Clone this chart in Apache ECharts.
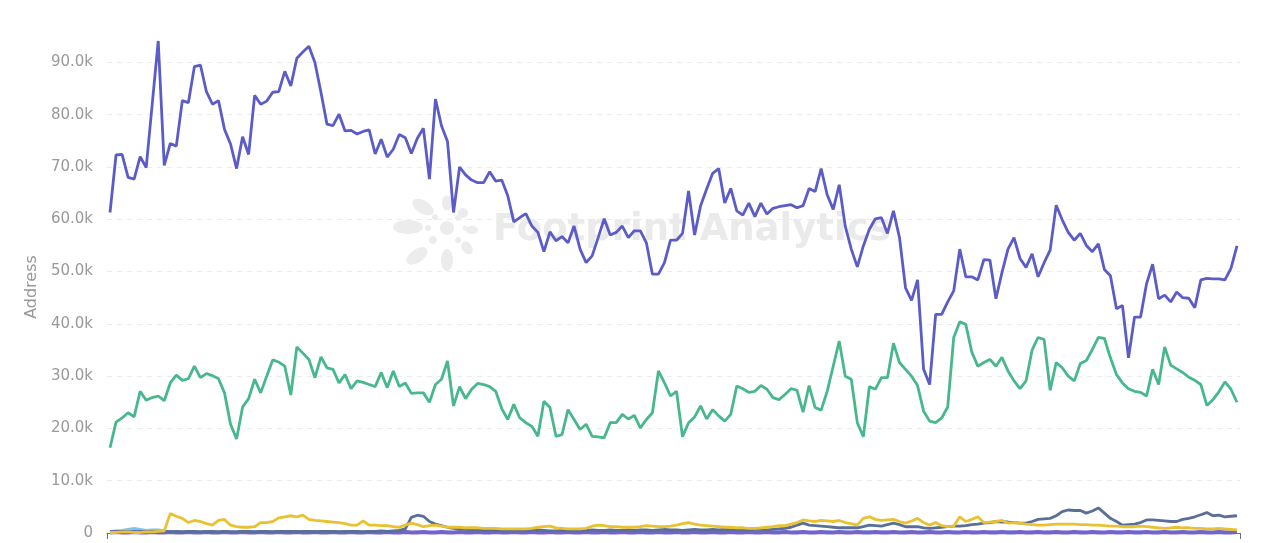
<!DOCTYPE html>
<html>
<head>
<meta charset="utf-8">
<script src="https://cdn.jsdelivr.net/npm/echarts@6/dist/echarts.min.js"></script>
<style>
html,body{margin:0;padding:0;background:#fff;}
#chart{width:1273px;height:543px;}
</style>
</head>
<body>
<div id="chart"></div>
<script>
// Values in thousands of addresses
const mainSeries = [
61.3,72.3,72.4,68.0,67.7,72.0,69.9,82.0,94.1,70.3,
74.5,74.0,82.7,82.3,89.2,89.5,84.4,82.0,82.7,77.2,
74.4,69.7,75.8,72.4,83.7,82.0,82.6,84.3,84.4,88.3,
85.5,90.8,92.0,93.1,90.0,84.3,78.2,77.9,80.1,76.9,
77.0,76.3,76.8,77.1,72.5,75.3,71.9,73.4,76.2,75.6,
72.6,75.5,77.4,67.7,83.0,77.9,74.9,61.3,70.0,68.5,
67.5,67.0,67.0,69.1,67.3,67.5,64.5,59.5,60.3,61.1,
58.7,57.5,53.8,57.6,55.9,56.7,55.5,58.7,54.3,51.7,
53.0,56.5,60.1,57.0,57.5,58.7,56.5,57.8,57.8,55.5,
49.5,49.5,51.7,56.0,56.0,57.3,65.4,57.0,62.6,65.8,
68.8,69.7,63.1,65.9,61.6,60.8,63.1,60.5,63.1,61.0,
62.1,62.4,62.6,62.8,62.2,62.6,65.9,65.3,69.7,64.7,
61.9,66.6,58.7,54.3,50.9,54.9,58.1,60.1,60.3,57.3,
61.6,56.5,46.9,44.5,48.4,31.3,28.4,41.8,41.8,44.2,
46.3,54.3,49.0,49.0,48.4,52.3,52.2,44.8,49.8,54.3,
56.5,52.5,50.8,53.4,49.0,51.7,54.1,62.7,59.9,57.5,
56.0,57.3,55.0,53.8,55.3,50.4,49.2,42.9,43.5,33.5,
41.3,41.3,47.7,51.4,44.8,45.5,44.2,46.1,45.0,44.9,
43.1,48.4,48.7,48.6,48.6,48.4,50.6,54.9
];
const greenSeries = [
16.3,21.2,22.0,23.0,22.2,27.1,25.4,25.9,26.2,25.3,
28.7,30.2,29.2,29.5,31.9,29.7,30.5,30.1,29.5,26.8,
20.8,18.0,24.1,25.7,29.4,26.8,30.0,33.1,32.7,31.9,
26.4,35.6,34.4,33.2,29.7,33.7,31.6,31.3,28.7,30.3,
27.6,29.1,28.8,28.4,28.0,30.7,27.8,31.0,28.0,28.7,
26.7,26.8,26.8,25.0,28.4,29.4,32.9,24.3,28.0,25.7,
27.5,28.6,28.4,28.0,27.1,23.8,21.7,24.6,22.0,21.1,
20.4,18.5,25.2,24.0,18.5,18.8,23.6,21.7,19.8,20.8,
18.5,18.4,18.2,21.1,21.1,22.7,21.8,22.5,20.1,21.7,
23.0,31.0,28.7,26.2,27.1,18.4,21.1,22.2,24.3,21.8,
23.6,22.4,21.4,22.7,28.1,27.6,26.9,27.1,28.2,27.5,
25.9,25.5,26.5,27.6,27.3,23.1,28.2,24.0,23.5,27.1,
31.9,36.7,30.0,29.4,21.1,18.4,28.0,27.5,29.7,29.7,
36.3,32.6,31.3,30.0,28.2,23.3,21.4,21.1,22.0,24.1,
37.4,40.4,39.9,34.6,31.9,32.6,33.2,31.9,33.6,31.0,
29.1,27.6,29.1,35.0,37.4,37.0,27.3,32.6,31.6,30.0,
29.1,32.4,33.0,35.1,37.4,37.2,33.5,30.3,28.7,27.6,
27.1,26.9,26.2,31.3,28.4,35.6,32.1,31.4,30.7,29.8,
29.2,28.4,24.4,25.5,27.0,28.9,27.5,25.0
];
const yellowSeries = [
0.1,0.1,0.2,0.2,0.1,0.1,0.2,0.2,0.3,0.4,
3.7,3.2,2.8,2.0,2.4,2.2,1.8,1.5,2.4,2.6,
1.5,1.2,1.1,1.1,1.2,2.0,2.0,2.2,2.9,3.1,
3.3,3.1,3.4,2.6,2.4,2.3,2.2,2.1,2.0,1.8,
1.5,1.5,2.3,1.5,1.5,1.4,1.4,1.2,1.1,1.5,
1.9,1.6,1.2,1.4,1.5,1.3,1.1,1.1,1.1,1.0,
1.0,1.0,0.9,0.9,0.9,0.8,0.8,0.8,0.8,0.8,
0.9,1.1,1.2,1.3,1.0,0.9,0.8,0.8,0.8,0.9,
1.3,1.5,1.4,1.2,1.2,1.1,1.1,1.1,1.2,1.4,
1.3,1.2,1.2,1.3,1.5,1.8,2.0,1.7,1.5,1.4,
1.3,1.2,1.1,1.1,1.0,1.0,0.9,0.9,1.0,1.1,
1.2,1.4,1.4,1.7,2.0,2.5,2.3,2.2,2.4,2.3,
2.2,2.4,2.0,1.8,1.5,2.8,3.1,2.6,2.4,2.5,
2.6,2.2,1.9,2.3,2.8,2.0,1.5,2.0,1.4,1.2,
1.3,3.1,2.2,2.6,3.1,2.0,2.1,2.2,2.4,1.9,
2.0,1.9,1.7,1.6,1.5,1.5,1.6,1.7,1.7,1.7,
1.7,1.6,1.6,1.5,1.5,1.4,1.3,1.3,1.2,1.2,
1.2,1.3,1.2,1.1,1.0,0.9,1.0,1.1,1.0,1.0,
0.9,0.9,0.8,0.8,0.9,0.8,0.7,0.6
];
const slateSeries = [
0.3,0.2,0.3,0.2,0.2,0.3,0.2,0.2,0.3,0.3,
0.2,0.3,0.2,0.3,0.3,0.2,0.2,0.3,0.2,0.3,
0.2,0.2,0.3,0.3,0.2,0.3,0.3,0.2,0.3,0.3,
0.3,0.2,0.3,0.3,0.2,0.3,0.3,0.3,0.2,0.3,
0.3,0.3,0.2,0.3,0.3,0.4,0.3,0.4,0.5,0.8,
3.0,3.4,3.2,2.2,1.7,1.4,1.1,0.9,0.8,0.7,
0.6,0.6,0.5,0.5,0.5,0.4,0.4,0.5,0.4,0.4,
0.5,0.6,0.5,0.4,0.4,0.5,0.4,0.4,0.5,0.5,
0.6,0.5,0.5,0.6,0.5,0.5,0.6,0.5,0.6,0.6,
0.5,0.6,0.7,0.6,0.6,0.5,0.6,0.7,0.6,0.6,
0.7,0.6,0.7,0.6,0.7,0.6,0.6,0.7,0.7,0.6,
0.7,0.8,0.9,1.1,1.5,1.9,1.5,1.4,1.3,1.2,
1.1,1.0,1.0,1.0,1.0,1.2,1.5,1.4,1.3,1.6,
1.9,1.6,1.2,1.2,1.2,1.0,0.9,1.0,1.1,1.2,
1.3,1.3,1.4,1.6,1.7,1.9,2.0,2.2,2.1,2.1,
2.0,1.9,1.9,2.2,2.6,2.7,2.8,3.3,4.1,4.4,
4.3,4.3,3.8,4.2,4.8,3.8,2.8,2.2,1.5,1.6,
1.7,2.0,2.5,2.5,2.4,2.3,2.2,2.2,2.6,2.8,
3.1,3.5,3.9,3.3,3.4,3.1,3.2,3.3
];
const cyanSeries = [
0.3,0.4,0.5,0.7,0.9,0.7,0.5,0.6,0.6,0.4,
0.2,0.2,0.1,0.2,0.2,0.1,0.2,0.2,0.1,0.2,
0.2,0.1,0.1,0.2,0.2,0.2,0.1,0.2,0.2,0.1,
0.2,0.2,0.1,0.1,0.2,0.2,0.1,0.2,0.2,0.1,
0.1,0.2,0.2,0.1,0.2,0.2,0.1,0.1,0.2,0.2,
0.1,0.2,0.2,0.1,0.1,0.2,0.2,0.1,0.2,0.2,
0.1,0.1,0.2,0.2,0.1,0.2,0.2,0.1,0.1,0.2,
0.2,0.1,0.2,0.2,0.1,0.1,0.2,0.2,0.1,0.2,
0.2,0.1,0.1,0.2,0.2,0.1,0.2,0.2,0.1,0.1,
0.2,0.2,0.1,0.2,0.2,0.1,0.1,0.2,0.2,0.1,
0.2,0.2,0.1,0.1,0.2,0.2,0.1,0.2,0.2,0.1,
0.1,0.2,0.2,0.1,0.2,0.2,0.1,0.1,0.2,0.2,
0.1,0.2,0.2,0.1,0.1,0.2,0.2,0.1,0.2,0.2,
0.1,0.1,0.2,0.2,0.1,0.2,0.2,0.1,0.1,0.2,
0.2,0.1,0.2,0.2,0.1,0.1,0.2,0.2,0.1,0.2,
0.2,0.1,0.1,0.2,0.2,0.1,0.2,0.2,0.1,0.1,
0.2,0.2,0.1,0.2,0.2,0.1,0.1,0.2,0.2,0.1,
0.2,0.2,0.1,0.1,0.2,0.2,0.1,0.2,0.2,0.1,
0.1,0.2,0.2,0.1,0.2,0.2,0.1,0.1
];
const violetSeries = [
0.1,0.2,0.1,0.1,0.2,0.1,0.1,0.2,0.1,0.1,
0.2,0.1,0.1,0.2,0.1,0.1,0.2,0.1,0.1,0.2,
0.1,0.1,0.2,0.1,0.1,0.2,0.1,0.1,0.2,0.1,
0.1,0.2,0.1,0.1,0.2,0.1,0.1,0.2,0.1,0.1,
0.2,0.1,0.1,0.2,0.1,0.1,0.2,0.1,0.1,0.2,
0.1,0.1,0.2,0.1,0.1,0.2,0.1,0.1,0.2,0.1,
0.1,0.2,0.1,0.1,0.2,0.1,0.1,0.2,0.1,0.1,
0.2,0.1,0.1,0.2,0.1,0.1,0.2,0.1,0.1,0.2,
0.1,0.1,0.2,0.1,0.1,0.2,0.1,0.1,0.2,0.1,
0.1,0.2,0.1,0.1,0.2,0.1,0.1,0.2,0.1,0.1,
0.2,0.1,0.1,0.2,0.1,0.1,0.2,0.1,0.1,0.2,
0.1,0.1,0.2,0.1,0.1,0.2,0.1,0.1,0.2,0.1,
0.1,0.2,0.1,0.1,0.2,0.1,0.1,0.2,0.1,0.1,
0.2,0.1,0.1,0.2,0.1,0.1,0.2,0.1,0.1,0.2,
0.1,0.1,0.2,0.1,0.1,0.2,0.1,0.1,0.2,0.1,
0.1,0.2,0.1,0.1,0.2,0.1,0.1,0.2,0.1,0.1,
0.2,0.1,0.1,0.2,0.1,0.1,0.2,0.1,0.1,0.2,
0.1,0.1,0.2,0.1,0.1,0.2,0.1,0.1,0.2,0.1,
0.1,0.2,0.1,0.1,0.2,0.1,0.1,0.2
];
const yTickStep = 10; // thousands
const axisName = 'Address';
const watermarkText = 'Footprint Analytics';

// day categories
const startDate = new Date(Date.UTC(2022, 5, 1));
const categories = mainSeries.map((_, i) => {
  const d = new Date(startDate.getTime() + i * 86400000);
  return d.toISOString().slice(0, 10);
});

const chart = echarts.init(document.getElementById('chart'), null, {renderer: 'canvas'});
const lineCommon = {type: 'line', showSymbol: false, symbol: 'none', smooth: false};
const petal = (cx, cy, rx, ry, rot) => ({
  type: 'ellipse', shape: {cx: 0, cy: 0, rx: rx, ry: ry},
  x: cx, y: cy, rotation: rot, style: {fill: '#ececec'}, z: -10, silent: true
});
const labelFont = '"DejaVu Sans", Verdana, sans-serif';
chart.setOption({
  animation: false,
  backgroundColor: '#fff',
  grid: {left: 107, right: 33, top: 41, bottom: 10, containLabel: false},
  graphic: [
    petal(408, 227, 15, 7, 0),
    petal(423, 207, 12, 6.5, -0.55),
    petal(447, 203, 5, 7.5, 0),
    petal(463, 213, 5, 5, 0),
    petal(472, 230, 6, 4, 0),
    petal(467, 248, 5, 7, 0.6),
    petal(447, 260, 6, 11, 0),
    petal(417, 256, 12, 6.5, 0.6),
    petal(447, 228, 7, 7, 0),
    petal(435, 217, 3, 3, 0),
    petal(458, 218, 3, 3, 0),
    petal(433, 240, 4, 4, 0),
    petal(458, 240, 3, 3, 0),
    petal(428, 228, 3, 3, 0),
    petal(465, 228, 2.5, 2.5, 0),
    {
      type: 'text', left: 493, top: 212, z: -10, silent: true,
      style: {text: watermarkText, font: 'bold 37px "DejaVu Sans"', fill: '#eaeaea'}
    }
  ],
  xAxis: {
    type: 'category',
    data: categories,
    boundaryGap: true,
    axisLine: {show: true, lineStyle: {color: '#6E7079'}},
    axisTick: {show: true, interval: (i) => i === 0, length: 6, lineStyle: {color: '#6E7079'}},
    axisLabel: {show: false},
    splitLine: {show: false}
  },
  yAxis: {
    type: 'value',
    min: 0,
    max: 'dataMax',
    interval: yTickStep,
    name: axisName,
    nameLocation: 'middle',
    nameGap: 64,
    nameTextStyle: {color: '#999', fontSize: 16, fontFamily: labelFont},
    axisLine: {show: false},
    axisTick: {show: false},
    axisLabel: {
      color: '#999', fontSize: 15, margin: 14,
      fontFamily: labelFont,
      showMaxLabel: false,
      formatter: (v) => v === 0 ? '0' : v.toFixed(1) + 'k'
    },
    splitLine: {show: true, showMaxLine: false, lineStyle: {color: '#ececec', type: [5, 5]}}
  },
  series: [
    Object.assign({}, lineCommon, {name: 'cyan', data: cyanSeries, z: 2, lineStyle: {width: 2.8, color: '#7CC6EE'}, itemStyle: {color: '#7CC6EE'}}),
    Object.assign({}, lineCommon, {name: 'violet', data: violetSeries, z: 3, lineStyle: {width: 4, color: '#7563CB'}, itemStyle: {color: '#7563CB'}}),
    Object.assign({}, lineCommon, {name: 'slate', data: slateSeries, z: 4, lineStyle: {width: 2.8, color: '#5A6F98'}, itemStyle: {color: '#5A6F98'}}),
    Object.assign({}, lineCommon, {name: 'yellow', data: yellowSeries, z: 5, lineStyle: {width: 2.8, color: '#E9C232'}, itemStyle: {color: '#E9C232'}}),
    Object.assign({}, lineCommon, {name: 'green', data: greenSeries, z: 6, lineStyle: {width: 2.8, color: '#47B78C'}, itemStyle: {color: '#47B78C'}}),
    Object.assign({}, lineCommon, {name: 'main', data: mainSeries, z: 7, lineStyle: {width: 2.8, color: '#5B5CC8'}, itemStyle: {color: '#5B5CC8'}})
  ]
});
</script>
</body>
</html>
